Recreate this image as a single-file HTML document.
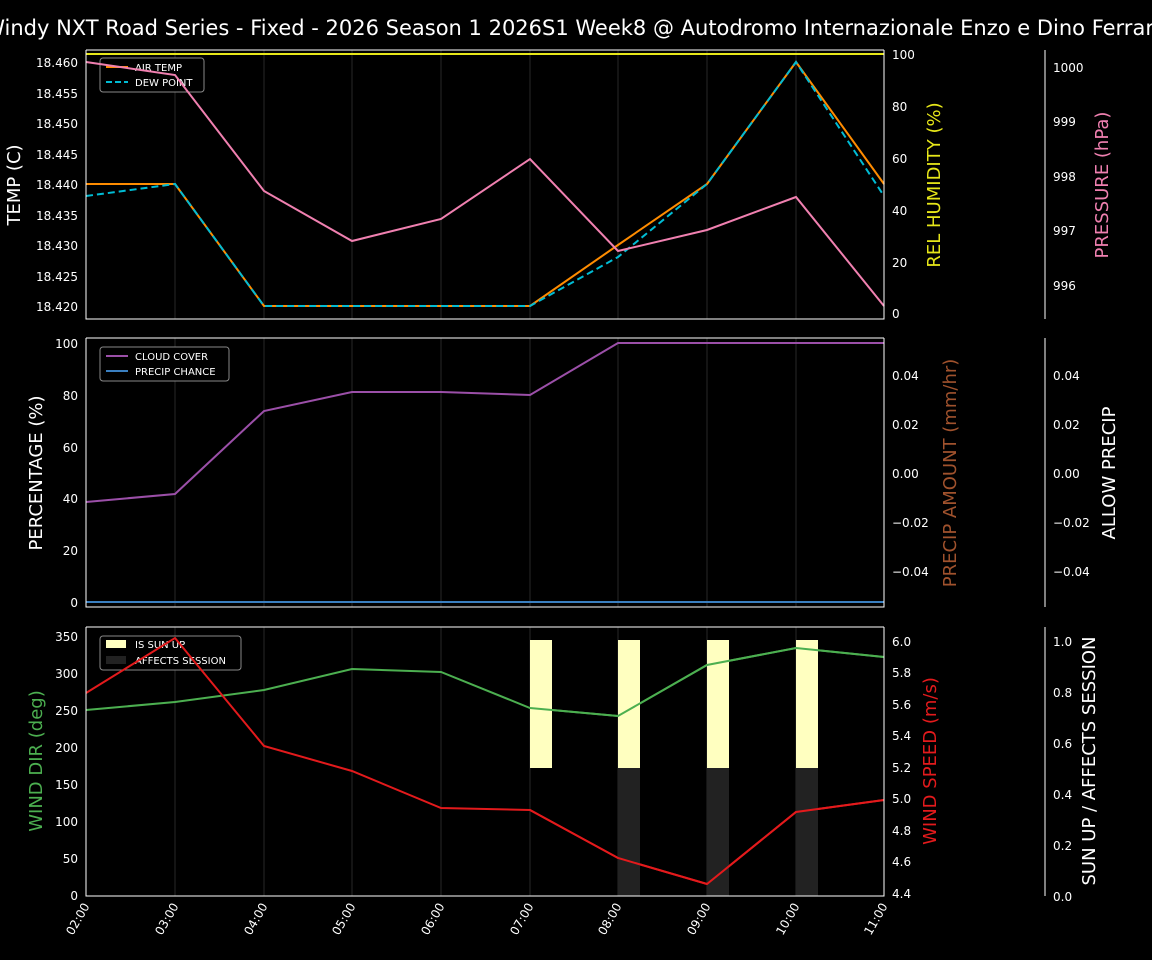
<!DOCTYPE html>
<html><head><meta charset="utf-8"><style>body{margin:0;background:#000;overflow:hidden}svg{display:block}text{font-family:"DejaVu Sans","Liberation Sans",sans-serif;fill:#fff}</style></head><body>
<svg width="1152" height="960" viewBox="0 0 1152 960" xmlns="http://www.w3.org/2000/svg">
<rect width="1152" height="960" fill="#000"/>
<text x="572" y="35" font-size="21" text-anchor="middle">Windy NXT Road Series - Fixed - 2026 Season 1 2026S1 Week8 @ Autodromo Internazionale Enzo e Dino Ferrari</text>
<g stroke="#1a1a1a" stroke-width="1.5">
<path d="M175 50V319M264 50V319M352 50V319M441 50V319M530 50V319M618 50V319M707 50V319M796 50V319"/>
<path d="M175 338V607M264 338V607M352 338V607M441 338V607M530 338V607M618 338V607M707 338V607M796 338V607"/>
<path d="M175 627V896M264 627V896M352 627V896M441 627V896M530 627V896M618 627V896M707 627V896M796 627V896"/>
</g>
<!-- panel 1 -->
<polyline fill="none" stroke="#ff8c00" stroke-width="2" points="86,184 175,184 264,306 352,306 441,306 530,306 618,245 707,184 796,62 884,184"/>
<polyline fill="none" stroke="#00bcd4" stroke-width="2" stroke-dasharray="7,4" points="86,196 175,184 264,306 352,306 441,306 530,306 618,257 707,184 796,62 884,196"/>
<rect x="100" y="58" width="104" height="34" fill="#000" stroke="#888" rx="3"/>
<path d="M106 67H128" stroke="#ff8c00" stroke-width="2"/><path d="M106 82H128" stroke="#00bcd4" stroke-width="2" stroke-dasharray="6,3"/>
<text x="135" y="71" font-size="10">AIR TEMP</text><text x="135" y="86" font-size="10">DEW POINT</text>
<polyline fill="none" stroke="#e6e619" stroke-width="2" points="86,54 884,54"/>
<polyline fill="none" stroke="#f080b0" stroke-width="2" points="86,62 175,75 264,191 352,241 441,219 530,159 618,251 707,230 796,197 884,306"/>
<g fill="none" stroke="#fff" stroke-width="1"><path d="M86 50V319H884V50M86 50H884"/><path d="M1045 50V319"/></g>
<g font-size="12" text-anchor="end">
<text x="78" y="67">18.460</text><text x="78" y="98">18.455</text><text x="78" y="128">18.450</text><text x="78" y="159">18.445</text><text x="78" y="189">18.440</text><text x="78" y="220">18.435</text><text x="78" y="250">18.430</text><text x="78" y="281">18.425</text><text x="78" y="311">18.420</text></g>
<g font-size="12"><text x="892" y="59">100</text><text x="892" y="111">80</text><text x="892" y="163">60</text><text x="892" y="215">40</text><text x="892" y="267">20</text><text x="892" y="318">0</text>
<text x="1053" y="72">1000</text><text x="1053" y="126">999</text><text x="1053" y="181">998</text><text x="1053" y="235">997</text><text x="1053" y="290">996</text></g>
<text transform="translate(20,185) rotate(-90)" font-size="18" text-anchor="middle">TEMP (C)</text>
<text transform="translate(940,185) rotate(-90)" font-size="18" text-anchor="middle" style="fill:#e6e619">REL HUMIDITY (%)</text>
<text transform="translate(1108,185) rotate(-90)" font-size="18" text-anchor="middle" style="fill:#f080b0">PRESSURE (hPa)</text>
<!-- panel 2 -->
<polyline fill="none" stroke="#3a7fc0" stroke-width="2" points="86,602 884,602"/>
<polyline fill="none" stroke="#9b4fa8" stroke-width="2" points="86,502 175,494 264,411 352,392 441,392 530,395 618,343 707,343 796,343 884,343"/>
<g fill="none" stroke="#fff"><path d="M86 338V607H884V338M86 338H884"/><path d="M1045 338V607"/></g>
<g font-size="12" text-anchor="end"><text x="78" y="348">100</text><text x="78" y="400">80</text><text x="78" y="452">60</text><text x="78" y="503">40</text><text x="78" y="555">20</text><text x="78" y="607">0</text></g>
<g font-size="12"><text x="892" y="380">0.04</text><text x="892" y="429">0.02</text><text x="892" y="478">0.00</text><text x="892" y="527">−0.02</text><text x="892" y="576">−0.04</text>
<text x="1053" y="380">0.04</text><text x="1053" y="429">0.02</text><text x="1053" y="478">0.00</text><text x="1053" y="527">−0.02</text><text x="1053" y="576">−0.04</text></g>
<text transform="translate(42,473) rotate(-90)" font-size="18" text-anchor="middle">PERCENTAGE (%)</text>
<text transform="translate(956,473) rotate(-90)" font-size="18" text-anchor="middle" style="fill:#a0522d">PRECIP AMOUNT (mm/hr)</text>
<text transform="translate(1115,473) rotate(-90)" font-size="18" text-anchor="middle">ALLOW PRECIP</text>
<rect x="100" y="347" width="129" height="34" fill="#000" stroke="#888" rx="3"/>
<path d="M106 356H128" stroke="#9b4fa8" stroke-width="2"/><path d="M106 371H128" stroke="#3a7fc0" stroke-width="2"/>
<text x="135" y="360" font-size="10">CLOUD COVER</text><text x="135" y="375" font-size="10">PRECIP CHANCE</text>
<!-- panel 3 -->
<polyline fill="none" stroke="#4caf50" stroke-width="2" points="86,710 175,702 264,690 352,669 441,672 530,708 618,716 707,665 796,648 884,657"/>
<rect x="100" y="636" width="141" height="34" fill="#000" stroke="#888" rx="3"/>
<rect x="106" y="640" width="20" height="8" fill="#ffffc0"/><rect x="106" y="656" width="20" height="8" fill="#222"/>
<text x="135" y="648" font-size="10">IS SUN UP</text><text x="135" y="664" font-size="10">AFFECTS SESSION</text>
<polyline fill="none" stroke="#e31a1c" stroke-width="2" points="86,693 175,638 264,746 352,771 441,808 530,810 618,858 707,884 796,812 884,800"/>
<g fill="#ffffc0"><rect x="530" y="640" width="22" height="128"/><rect x="618" y="640" width="22" height="128"/><rect x="707" y="640" width="22" height="128"/><rect x="796" y="640" width="22" height="128"/></g>
<g fill="#222"><rect x="618" y="768" width="22" height="128"/><rect x="707" y="768" width="22" height="128"/><rect x="796" y="768" width="22" height="128"/></g>
<polyline fill="none" stroke="#4caf50" stroke-width="2" points="530,708 618,716 707,665 796,648 884,657"/>
<polyline fill="none" stroke="#e31a1c" stroke-width="2" points="530,810 618,858 707,884 796,812 884,800"/>
<g fill="none" stroke="#fff"><path d="M86 627V896H884V627M86 627H884"/><path d="M1045 627V896"/></g>
<g font-size="12" text-anchor="end"><text x="78" y="641">350</text><text x="78" y="678">300</text><text x="78" y="715">250</text><text x="78" y="752">200</text><text x="78" y="789">150</text><text x="78" y="826">100</text><text x="78" y="863">50</text><text x="78" y="900">0</text></g>
<g font-size="12"><text x="892" y="646">6.0</text><text x="892" y="677">5.8</text><text x="892" y="709">5.6</text><text x="892" y="740">5.4</text><text x="892" y="772">5.2</text><text x="892" y="803">5.0</text><text x="892" y="835">4.8</text><text x="892" y="866">4.6</text><text x="892" y="898">4.4</text>
<text x="1053" y="646">1.0</text><text x="1053" y="697">0.8</text><text x="1053" y="748">0.6</text><text x="1053" y="799">0.4</text><text x="1053" y="850">0.2</text><text x="1053" y="901">0.0</text></g>
<text transform="translate(42,761) rotate(-90)" font-size="18" text-anchor="middle" style="fill:#4caf50">WIND DIR (deg)</text>
<text transform="translate(936,761) rotate(-90)" font-size="18" text-anchor="middle" style="fill:#e31a1c">WIND SPEED (m/s)</text>
<text transform="translate(1095,761) rotate(-90)" font-size="18" text-anchor="middle">SUN UP / AFFECTS SESSION</text>
<g font-size="12" text-anchor="end">
<text transform="translate(90,906) rotate(-60)">02:00</text><text transform="translate(179,906) rotate(-60)">03:00</text><text transform="translate(268,906) rotate(-60)">04:00</text><text transform="translate(356,906) rotate(-60)">05:00</text><text transform="translate(445,906) rotate(-60)">06:00</text><text transform="translate(534,906) rotate(-60)">07:00</text><text transform="translate(622,906) rotate(-60)">08:00</text><text transform="translate(711,906) rotate(-60)">09:00</text><text transform="translate(800,906) rotate(-60)">10:00</text><text transform="translate(888,906) rotate(-60)">11:00</text></g>
</svg>
</body></html>
